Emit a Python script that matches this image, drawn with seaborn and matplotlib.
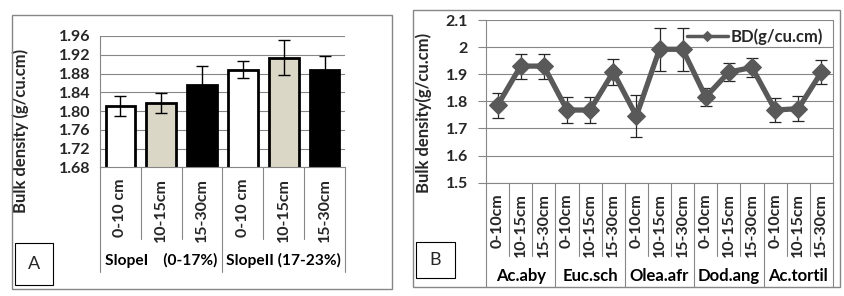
import numpy as np
import pandas as pd
import seaborn as sns
import matplotlib.pyplot as plt
from matplotlib.patches import Rectangle
from matplotlib.lines import Line2D
from matplotlib.transforms import blended_transform_factory

# ---- data, panel A (bar chart by slope class) ----
depths_a = ["0-10 cm", "10-15cm", "15-30cm", "0-10 cm", "10-15cm", "15-30cm"]
groups_a = ["SlopeI    (0-17%)", "SlopeII (17-23%)"]
bd_a = [1.811, 1.817, 1.856, 1.888, 1.914, 1.888]
err_a = [0.022, 0.021, 0.041, 0.018, 0.037, 0.030]
yticks_a = [1.68, 1.72, 1.76, 1.80, 1.84, 1.88, 1.92, 1.96]

# ---- data, panel B (line chart by species) ----
depths_b = ["0-10cm", "10-15cm", "15-30cm"] * 5
groups_b = ["Ac.aby", "Euc.sch", "Olea.afr", "Dod.ang", "Ac.tortil"]
bd_b = [1.785, 1.930, 1.930, 1.768, 1.768, 1.908, 1.746, 1.992, 1.992,
        1.816, 1.908, 1.925, 1.768, 1.773, 1.908]
err_b = [0.045, 0.046, 0.046, 0.048, 0.048, 0.047, 0.079, 0.080, 0.080,
         0.034, 0.033, 0.035, 0.044, 0.045, 0.043]
yticks_b = [1.5, 1.6, 1.7, 1.8, 1.9, 2.0, 2.1]
ytick_labels_b = ["1.5", "1.6", "1.7", "1.8", "1.9", "2", "2.1"]

sns.set_style("white")
plt.rcParams['font.family'] = ['Lato', 'DejaVu Sans']

W, H = 844, 296
fig = plt.figure(figsize=(W / 100, H / 100), dpi=100)
GRID = "#868686"
TXT = "black"
FS_TICK = 11.5
FS_GROUP = 12
FS_YLAB = 12


def px_axes(l, r, t, b):
    return fig.add_axes([l / W, (H - b) / H, (r - l) / W, (b - t) / H])


def frame(l, r, t, b, lw=1.0):
    fig.add_artist(Rectangle((l / W, (H - b) / H), (r - l) / W, (b - t) / H,
                             transform=fig.transFigure, fill=False,
                             edgecolor=GRID, linewidth=lw))


# outer chart frames
frame(12, 392, 15, 289)
frame(413, 840, 10, 287)

# ---------------- panel A ----------------
axA = px_axes(100, 345, 36, 167.3)
dfa = pd.DataFrame({"pos": np.arange(6), "bd": bd_a})
sns.barplot(data=dfa, x="pos", y="bd", hue="pos",
            palette=["white", "#ddd9c3", "black", "white", "#ddd9c3", "black"],
            legend=False, edgecolor="black", linewidth=2, width=0.73, ax=axA)
axA.errorbar(np.arange(6), bd_a, yerr=err_a, fmt="none", ecolor="black",
             elinewidth=1, capsize=4, capthick=1, zorder=5)
axA.set_ylim(1.68, 1.96)
axA.set_xlim(-0.5, 5.5)
axA.set_yticks(yticks_a)
axA.set_yticklabels([f"{v:.2f}" for v in yticks_a], fontsize=FS_TICK, fontweight="bold")
axA.set_xticks(np.arange(6))
axA.set_xticklabels(depths_a, rotation=90, fontsize=FS_TICK, fontweight="bold")
axA.tick_params(axis="x", length=0, pad=8)
axA.tick_params(axis="y", length=5, width=0.8, color=GRID, pad=2, direction="out")
axA.yaxis.grid(True, color=GRID, linewidth=0.8)
axA.set_axisbelow(True)
for s in ["top", "right"]:
    axA.spines[s].set_visible(False)
for s in ["left", "bottom"]:
    axA.spines[s].set_color(GRID)
    axA.spines[s].set_linewidth(0.8)
axA.set_xlabel("")
axA.set_ylabel("Bulk density (g/cu.cm)", fontsize=FS_YLAB, fontweight="bold")
axA.yaxis.set_label_coords(-0.29, 0.28)

trA = blended_transform_factory(axA.transData, axA.transAxes)
for x in [0.5, 1.5, 3.5, 4.5]:
    axA.add_line(Line2D([x, x], [0, -0.546], transform=trA, color=GRID,
                        linewidth=0.8, clip_on=False))
for x in [-0.5, 2.5, 5.5]:
    axA.add_line(Line2D([x, x], [0, -0.797], transform=trA, color=GRID,
                        linewidth=0.8, clip_on=False))
for i, g in enumerate(groups_a):
    axA.text(1 + 3 * i, -0.706, g, transform=trA, ha="center", va="center",
             fontsize=11.2, fontweight="bold", color=TXT)

# ---------------- panel B ----------------
axB = px_axes(486, 833, 20, 182.7)
dfb = pd.DataFrame({"pos": np.arange(15), "bd": bd_b})
axB.errorbar(np.arange(15), bd_b, yerr=err_b, fmt="none", ecolor="#262626",
             elinewidth=0.9, capsize=4, capthick=0.9, zorder=2)
sns.lineplot(data=dfb, x="pos", y="bd", marker="D", color="#595959",
             linewidth=3.8, markersize=9.5, markeredgecolor="#595959",
             label="BD(g/cu.cm)", ax=axB, zorder=3)
axB.set_ylim(1.5, 2.1)
axB.set_xlim(-0.5, 14.5)
axB.set_yticks(yticks_b)
axB.set_yticklabels(ytick_labels_b, fontsize=FS_TICK, fontweight="bold")
axB.set_xticks(np.arange(15))
axB.set_xticklabels(depths_b, rotation=90, fontsize=FS_TICK, fontweight="bold")
axB.tick_params(axis="x", length=0, pad=7.5)
axB.tick_params(axis="y", length=6, width=0.8, color=GRID, pad=7, direction="out", left=True)
axB.yaxis.grid(True, color=GRID, linewidth=0.8)
axB.set_axisbelow(True)
axB.spines["top"].set_visible(False)
for s in ["left", "bottom", "right"]:
    axB.spines[s].set_color(GRID)
    axB.spines[s].set_linewidth(0.8)
axB.set_xlabel("")
axB.set_ylabel("Bulk density(g/cu.cm)", fontsize=FS_YLAB, fontweight="bold")
axB.yaxis.set_label_coords(-0.156, 0.431)

leg = axB.legend(loc="center left", bbox_to_anchor=(0.578, 0.9), frameon=False,
                 prop={"family": "Lato", "weight": "bold", "size": FS_GROUP},
                 handlelength=2.5, handletextpad=0.15, borderaxespad=0, borderpad=0)
for h in leg.get_lines():
    h.set_linewidth(2.5)
    h.set_markersize(5)

trB = blended_transform_factory(axB.transData, axB.transAxes)
for x in np.arange(0.5, 14, 1.0):
    if x in (2.5, 5.5, 8.5, 11.5):
        continue
    axB.add_line(Line2D([x, x], [0, -0.4505], transform=trB, color=GRID,
                        linewidth=0.8, clip_on=False))
for x in [-0.5, 2.5, 5.5, 8.5, 11.5, 14.5]:
    axB.add_line(Line2D([x, x], [0, -0.641], transform=trB, color=GRID,
                        linewidth=0.8, clip_on=False))
for i, g in enumerate(groups_b):
    axB.text(1 + 3 * i, -0.573, g, transform=trB, ha="center", va="center",
             fontsize=FS_GROUP, fontweight="bold", color=TXT)

# panel letters
for label, (l, r, t, b) in [("A", (15, 53, 243, 285)), ("B", (416, 455, 242, 278))]:
    fig.add_artist(Rectangle((l / W, (H - b) / H), (r - l) / W, (b - t) / H,
                             transform=fig.transFigure, fill=True, facecolor="white",
                             edgecolor="black", linewidth=0.8))
    fig.text((l + r) / 2 / W, (H - (t + b) / 2) / H, label, ha="center",
             va="center", fontsize=13)

fig.savefig("out.png", dpi=100)
